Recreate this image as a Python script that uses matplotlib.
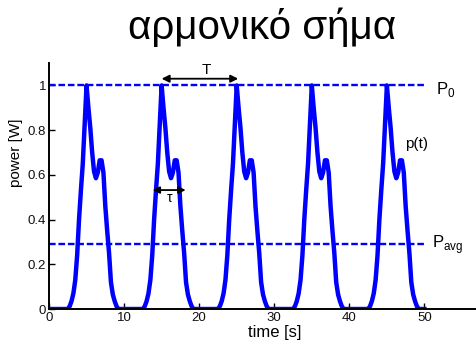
import matplotlib.pyplot as plt
import numpy as np

period = 10.0
step = 0.25
pulse = [0, 0, 0, 0, 0, 0, 0, 0, 0, 0,
         0, 0.012, 0.035, 0.07, 0.13, 0.24, 0.40, 0.53, 0.65, 0.83,
         1.0, 0.90, 0.81, 0.70, 0.615, 0.585, 0.61, 0.665, 0.665, 0.61,
         0.46, 0.35, 0.25, 0.12, 0.065, 0.035, 0.012, 0, 0, 0]
n_periods = 5

P0 = 1.0
Pavg = 0.29

xticks = [0, 10, 20, 30, 40, 50]
yticks = [0, 0.2, 0.4, 0.6, 0.8, 1.0]
ytick_labels = ['0', '0.2', '0.4', '0.6', '0.8', '1']

plt.rcParams['font.family'] = ['Liberation Sans', 'DejaVu Sans']

t = np.arange(len(pulse) * n_periods + 1) * step
p = np.array(pulse * n_periods + [pulse[0]])

fig = plt.figure(figsize=(4.77, 3.44), dpi=100)
ax = fig.add_axes([0.1027, 0.1017, 0.8973, 0.715])

ax.plot(t, p, color='#0000ff', lw=3.2, solid_joinstyle='round')
ax.plot([0, 50], [P0, P0], color='#0000ff', lw=1.7, dashes=(2.8, 1.2))
ax.plot([0, 50], [Pavg, Pavg], color='#0000ff', lw=1.7, dashes=(2.8, 1.2))

ax.set_xlim(0, 57)
ax.set_ylim(0, 1.1)
ax.set_xticks(xticks)
ax.set_yticks(yticks)
ax.set_yticklabels(ytick_labels)
ax.tick_params(direction='in', length=4, width=1, labelsize=9.5, pad=2,
               labelcolor='#111111')
for s in ['top', 'right']:
    ax.spines[s].set_visible(False)
for s in ['left', 'bottom']:
    ax.spines[s].set_linewidth(1.4)

ax.set_xlabel('time [s]', fontsize=12)
ax.set_ylabel('power [W]', fontsize=11)
ax.yaxis.set_label_coords(-0.06, 0.634)
ax.xaxis.set_label_coords(0.528, -0.065)

ax.text(51.6, P0 - 0.02, r'P$_\mathregular{0}$', fontsize=12, va='center')
ax.text(51.0, Pavg, r'P$_\mathregular{avg}$', fontsize=12, va='center')
ax.text(47.4, 0.74, 'p(t)', fontsize=11, va='center')

ax.annotate('', xy=(15, 1.03), xytext=(25.2, 1.03),
            arrowprops=dict(arrowstyle='<|-|>', color='k', lw=1.3,
                            mutation_scale=11, shrinkA=0, shrinkB=0),
            zorder=5)
ax.text(21, 1.07, 'T', fontsize=11, ha='center', va='center')
ax.annotate('', xy=(13.8, 0.532), xytext=(18.2, 0.532),
            arrowprops=dict(arrowstyle='<|-|>', color='k', lw=1.3,
                            mutation_scale=10, shrinkA=0, shrinkB=0),
            zorder=5)
ax.text(16.1, 0.495, 'τ', fontsize=10, ha='center', va='center')

fig.text(0.55, 0.92, 'αρμονικό σήμα', fontsize=29, ha='center', va='center')

fig.savefig('out.png', dpi=100)
